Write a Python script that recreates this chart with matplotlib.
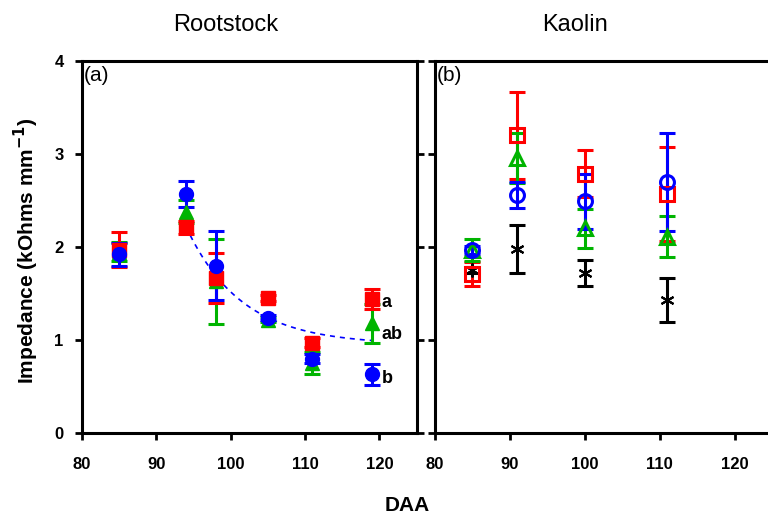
import numpy as np
import matplotlib
matplotlib.use('Agg')
import matplotlib.pyplot as plt

plt.rcParams['font.family'] = ['Liberation Sans', 'DejaVu Sans']

# Rootstock panel (a)
daa_a = [85, 94, 98, 105, 111, 119]
red_a = [1.97, 2.21, 1.67, 1.45, 0.97, 1.44]
red_a_err = [0.19, 0.07, 0.27, 0.03, 0.05, 0.11]
green_a = [1.95, 2.38, 1.63, 1.22, 0.75, 1.18]
green_a_err = [0.10, 0.12, 0.46, 0.03, 0.12, 0.21]
blue_a = [1.92, 2.57, 1.80, 1.24, 0.80, 0.63]
blue_a_err = [0.12, 0.14, 0.37, 0.03, 0.05, 0.11]
letters = ['a', 'ab', 'b']
letter_y = [1.40, 1.06, 0.59]

# exponential decay fit y = c + A*exp(-k*(x - x0)) drawn from 94 to 119 DAA
fit_c, fit_A, fit_k, fit_x0 = 0.95, 1.27, 0.134, 94

# Kaolin panel (b)
daa_b = [85, 91, 100, 111]
red_b = [1.71, 3.20, 2.79, 2.57]
red_b_err = [0.13, 0.47, 0.25, 0.51]
green_b = [1.97, 2.96, 2.20, 2.11]
green_b_err = [0.12, 0.27, 0.21, 0.22]
blue_b = [1.97, 2.56, 2.49, 2.70]
blue_b_err = [0.04, 0.14, 0.30, 0.53]
black_b = [1.75, 1.98, 1.72, 1.43]
black_b_err = [0.03, 0.26, 0.14, 0.24]

RED = '#ff0000'
GREEN = '#00b400'
BLUE = '#0000ff'

fig = plt.figure(figsize=(7.68, 5.17), dpi=100)
ax1 = fig.add_axes([0.1064, 0.1625, 0.4362, 0.7195])
ax2 = fig.add_axes([0.5664, 0.1625, 0.4388, 0.7195])

eb = dict(linestyle='none', elinewidth=2.2, capthick=2.2, capsize=6)

# filled symbols
ax1.errorbar(daa_a, green_a, yerr=green_a_err, fmt='^', color=GREEN, ms=10, **eb)
ax1.errorbar(daa_a, red_a, yerr=red_a_err, fmt='s', color=RED, ms=10, **eb)
ax1.errorbar(daa_a, blue_a, yerr=blue_a_err, fmt='o', color=BLUE, ms=10, **eb)

xf = np.linspace(94, 119, 100)
ax1.plot(xf, fit_c + fit_A * np.exp(-fit_k * (xf - fit_x0)), color=BLUE,
         linestyle=(0, (3, 3)), linewidth=1.2, zorder=1)

for lab, yv in zip(letters, letter_y):
    ax1.text(120.3, yv, lab, fontsize=13, fontweight='bold', va='center', ha='left')

# open symbols
ax2.errorbar(daa_b, red_b, yerr=red_b_err, fmt='s', color=RED, mfc='none', mew=2.2, ms=10, **eb)
ax2.errorbar(daa_b, green_b, yerr=green_b_err, fmt='^', color=GREEN, mfc='none', mew=2.2, ms=10, **eb)
ax2.errorbar(daa_b, blue_b, yerr=blue_b_err, fmt='o', color=BLUE, mfc='none', mew=2.2, ms=10, **eb)
ax2.errorbar(daa_b, black_b, yerr=black_b_err, fmt='none', color='black', **eb)
ax2.plot(daa_b, black_b, linestyle='none', marker=(6, 2, 0), color='black', ms=10, mew=1.5)

for ax in (ax1, ax2):
    ax.set_xlim(80, 125)
    ax.set_ylim(0, 4)
    ax.set_xticks([80, 90, 100, 110, 120])
    ax.set_yticks([0, 1, 2, 3, 4])
    for s in ax.spines.values():
        s.set_linewidth(2.2)
    ax.tick_params(direction='out', length=5, width=2, labelsize=12)
    ax.tick_params(axis='x', pad=12)
    ax.tick_params(axis='y', pad=8)
    for t in ax.get_xticklabels():
        t.set_fontweight('bold')

ax1.tick_params(axis='y', right=True)
for t in ax1.get_yticklabels():
    t.set_fontweight('bold')
ax2.tick_params(axis='y', labelleft=False)

ax1.text(80.3, 3.95, '(a)', fontsize=15, va='top', ha='left')
ax2.text(80.3, 3.95, '(b)', fontsize=15, va='top', ha='left')

fig.text(0.294, 0.952, 'Rootstock', fontsize=17, ha='center', va='center')
fig.text(0.749, 0.952, 'Kaolin', fontsize=17, ha='center', va='center')
fig.text(0.53, 0.023, 'DAA', fontsize=15, fontweight='bold', ha='center', va='center')
fig.text(0.035, 0.516, 'Impedance (kOhms mm$^{\\mathbf{-1}}$)', fontsize=15,
         fontweight='bold', rotation=90, ha='center', va='center')

plt.savefig('out.png', dpi=100)
